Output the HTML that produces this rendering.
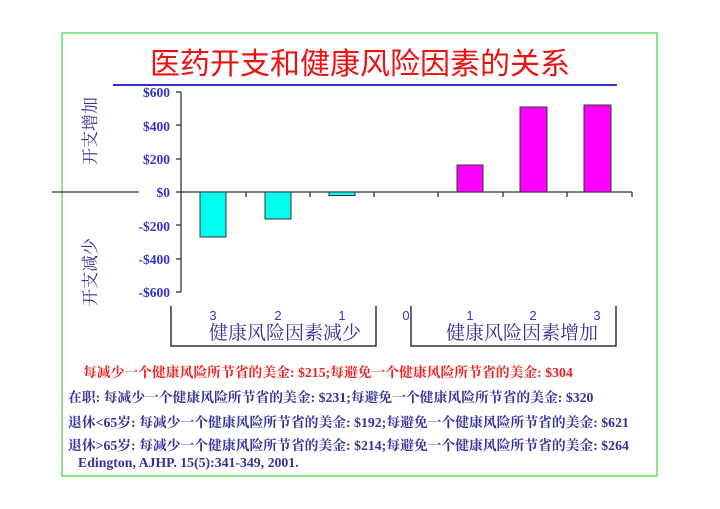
<!DOCTYPE html>
<html><head><meta charset="utf-8"><style>
body{margin:0;background:#fff;width:720px;height:509px;overflow:hidden;position:relative;font-family:"Liberation Serif","Noto Serif CJK SC",serif}
.t{position:absolute;white-space:nowrap;font-size:13.8px;font-weight:bold;color:#333399}
</style></head><body>
<svg width="720" height="509" style="position:absolute;left:0;top:0">
<rect x="62" y="33" width="595" height="443" fill="none" stroke="#66dd66" stroke-width="1.5"/>
<text x="360" y="74" text-anchor="middle" font-family="Liberation Sans,Noto Sans CJK SC,sans-serif" font-size="30" fill="#ee1111">医药开支和健康风险因素的关系</text>
<line x1="113" y1="85" x2="617" y2="85" stroke="#3333cc" stroke-width="2"/>
<line x1="52" y1="192" x2="139" y2="192" stroke="#000" stroke-width="1"/>
<g font-family="Liberation Serif,Noto Serif CJK SC,serif" font-size="17" fill="#333399">
<text transform="translate(96,131) rotate(-90)" text-anchor="middle">开支增加</text>
<text transform="translate(96,272) rotate(-90)" text-anchor="middle">开支减少</text>
</g>
<g font-family="Liberation Serif,serif" font-size="13.5" font-weight="bold" fill="#3333cc" text-anchor="end">
<text x="170" y="97">$600</text><text x="170" y="131">$400</text><text x="170" y="164">$200</text>
<text x="170" y="197">$0</text><text x="170" y="231">-$200</text><text x="170" y="264">-$400</text><text x="170" y="297">-$600</text>
</g>
<g stroke="#333" stroke-width="1.3" fill="none">
<line x1="181" y1="92" x2="181" y2="292"/>
<line x1="176" y1="92" x2="181" y2="92"/><line x1="176" y1="125" x2="181" y2="125"/><line x1="176" y1="159" x2="181" y2="159"/>
<line x1="176" y1="192" x2="181" y2="192"/><line x1="176" y1="225" x2="181" y2="225"/><line x1="176" y1="259" x2="181" y2="259"/><line x1="176" y1="292" x2="181" y2="292"/>
<line x1="181" y1="192" x2="632" y2="192"/>
<line x1="246" y1="192" x2="246" y2="197"/><line x1="310" y1="192" x2="310" y2="197"/><line x1="374" y1="192" x2="374" y2="197"/>
<line x1="438" y1="192" x2="438" y2="197"/><line x1="503" y1="192" x2="503" y2="197"/><line x1="567" y1="192" x2="567" y2="197"/><line x1="632" y1="192" x2="632" y2="197"/>
</g>
<g stroke="#333" stroke-width="1">
<rect x="200" y="192" width="26" height="45" fill="#00ffee"/>
<rect x="265" y="192" width="26" height="27" fill="#00ffee"/>
<rect x="329" y="192" width="26" height="3.5" fill="#00ffee"/>
<rect x="457" y="165" width="26" height="27" fill="#ff00ff"/>
<rect x="520" y="107" width="27" height="85" fill="#ff00ff"/>
<rect x="584" y="105" width="27" height="87" fill="#ff00ff"/>
</g>
<g stroke="#333" stroke-width="1.5" fill="none">
<polyline points="171,306 171,346 376,346 376,306"/>
<polyline points="411,306 411,346 616,346 616,306"/>
</g>
<g font-family="Liberation Sans,sans-serif" font-size="13" fill="#3333cc" text-anchor="middle">
<text x="213" y="320">3</text><text x="278" y="320">2</text><text x="342" y="320">1</text>
<text x="406" y="320">0</text><text x="470" y="320">1</text><text x="533" y="320">2</text><text x="597" y="320">3</text>
</g>
<g font-family="Liberation Serif,Noto Serif CJK SC,serif" font-size="19" fill="#333399" text-anchor="middle">
<text x="285" y="339">健康风险因素减少</text><text x="522" y="339">健康风险因素增加</text>
</g>
</svg>
<div class="t" style="left:83px;top:361px;color:#ee2222">每减少一个健康风险所节省的美金: $215;每避免一个健康风险所节省的美金: $304</div>
<div class="t" style="left:68px;top:386px">在职: 每减少一个健康风险所节省的美金: $231;每避免一个健康风险所节省的美金: $320</div>
<div class="t" style="left:68px;top:411px">退休&lt;65岁: 每减少一个健康风险所节省的美金: $192;每避免一个健康风险所节省的美金: $621</div>
<div class="t" style="left:68px;top:434px">退休&gt;65岁: 每减少一个健康风险所节省的美金: $214;每避免一个健康风险所节省的美金: $264</div>
<div class="t" style="left:78px;top:455px">Edington, AJHP. 15(5):341-349, 2001.</div>
</body></html>
